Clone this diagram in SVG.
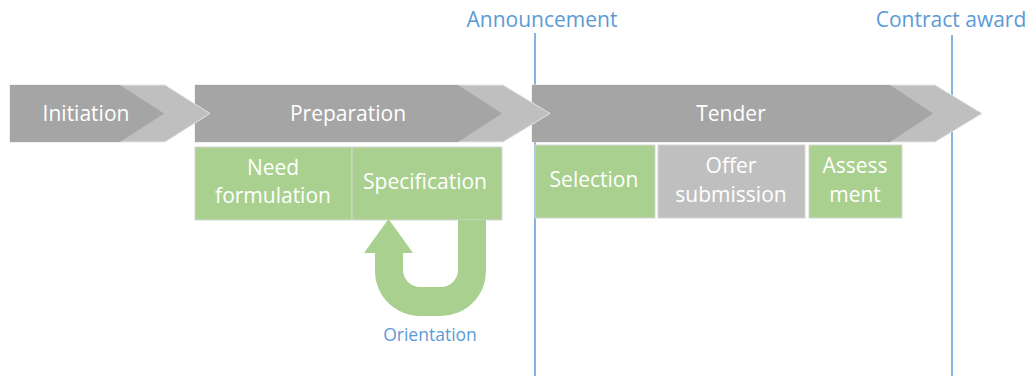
<svg xmlns="http://www.w3.org/2000/svg" width="1030" height="376" viewBox="0 0 1030 376">
<style>
.outer{fill:#BFBFBF;stroke:#E4E4E4;stroke-width:1}
.inner{fill:#A5A5A5}
.green{fill:#A9D08E;stroke:#D6D6D6;stroke-width:1}
.grey{fill:#BFBFBF;stroke:#D6D6D6;stroke-width:1}
.t{font-family:"Open Sans","Noto Sans",sans-serif;font-size:21px;fill:#FFFFFF;text-anchor:middle}
.b{font-family:"Open Sans","Noto Sans",sans-serif;font-size:21px;fill:#5B9BD5;text-anchor:middle}
.ms{stroke:#5B9BD5;stroke-width:1.5;fill:none}
</style>
<rect width="1030" height="376" fill="#FFFFFF"/>
<g id="milestones">
<line class="ms" x1="535" y1="33" x2="535" y2="376"/>
<line class="ms" x1="952" y1="35" x2="952" y2="376"/>
<text class="b" x="542" y="27">Announcement</text>
<text class="b" x="951" y="27">Contract award</text>
</g>
<g id="tender">
<polygon class="outer" points="532,85 935,85 982,113.5 935,142 532,142"/>
<polygon class="inner" points="532,85 890,85 933,113.5 890,142 532,142"/>
<text class="t" x="731" y="121">Tender</text>
</g>
<g id="preparation">
<polygon class="outer" points="195,85 503,85 550,113.5 503,142 195,142"/>
<polygon class="inner" points="195,85 458,85 502,113.5 458,142 195,142"/>
<text class="t" x="348" y="121">Preparation</text>
</g>
<g id="initiation">
<polygon class="outer" points="10,85 165,85 210,113.5 165,142 10,142"/>
<polygon class="inner" points="10,85 120,85 164,113.5 120,142 10,142"/>
<text class="t" x="86" y="121">Initiation</text>
</g>
<g id="need-formulation">
<rect class="green" x="195" y="147" width="157" height="73"/>
<text class="t" x="273" y="175">Need</text>
<text class="t" x="273" y="203">formulation</text>
</g>
<g id="specification">
<rect class="green" x="352" y="147" width="150" height="73"/>
<text class="t" x="425" y="189">Specification</text>
</g>
<g id="selection">
<rect class="green" x="535" y="145" width="120" height="73"/>
<text class="t" x="594" y="187">Selection</text>
</g>
<g id="offer-submission">
<rect class="grey" x="658" y="145" width="147" height="73"/>
<text class="t" x="731" y="173">Offer</text>
<text class="t" x="731" y="202">submission</text>
</g>
<g id="assessment">
<rect class="green" x="809" y="145" width="93" height="73"/>
<text class="t" x="855" y="173">Assess</text>
<text class="t" x="855" y="202">ment</text>
</g>
<g id="connectors">
<path fill="#A9D08E" d="M458,220 H486 V271 A45,45 0 0 1 441,316 H420 A45,45 0 0 1 375,271 V253 H364 L388.5,219 L413,253 H403 V270 A17,17 0 0 0 420,287 H441 A17,17 0 0 0 458,270 Z"/>
<text class="b" x="430" y="341" style="font-size:17.5px">Orientation</text>
</g>
</svg>
